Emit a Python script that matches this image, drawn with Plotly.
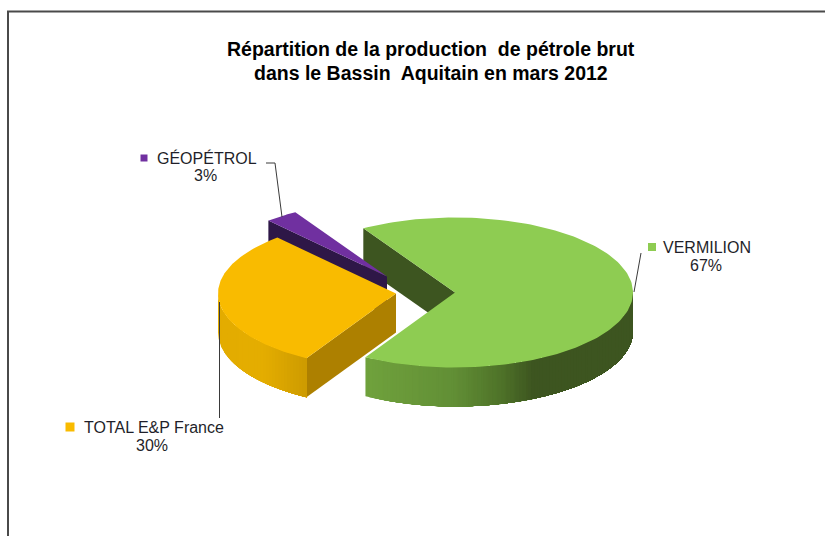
import numpy as np
import plotly.graph_objects as go

# ---- data ----
categories = ["VERMILION", "TOTAL E&P France", "GÉOPÉTROL"]
shares = [67, 30, 3]
title_lines = ["Répartition de la production  de pétrole brut",
               "dans le Bassin  Aquitain en mars 2012"]

# ---- style ----
top_colors = ["#8ECC52", "#F9BB00", "#7030A0"]
face_colors = ["#3D5520", "#AD8000", "#2E1747"]
wall_stops = [
    ([366, 453, 500, 533, 633], ["#70A23D", "#628F36", "#4F7329", "#3D5520", "#3D5520"]),
    ([218, 262, 307], ["#E3AC00", "#E5AE00", "#CD9B00"]),
    ([0, 825], ["#2E1747", "#2E1747"]),
]
explode = [(0, 0), (-59, 1), (-68, -16)]      # pixel offset of each slice
CX, CY, RX, RY, DEPTH = 455, 292.5, 178, 75, 39
START = -31


def rgb(h):
    return [int(h[i:i + 2], 16) for i in (1, 3, 5)]


def wall_color(idx, x):
    xs, cols = wall_stops[idx]
    c = np.array([rgb(k) for k in cols])
    return "rgb(%d,%d,%d)" % tuple(int(np.interp(x, xs, c[:, j])) for j in range(3))


def rim(idx, deg):
    t = np.radians(deg)
    ox, oy = explode[idx]
    return CX + ox + RX * np.sin(t), CY + oy - RY * np.cos(t)


def apex(idx):
    return CX + explode[idx][0], CY + explode[idx][1]


edges = START + np.concatenate([[0], np.cumsum(shares)]) * 3.6

fig = go.Figure()


def poly(xs, ys, color):
    fig.add_trace(go.Scatter(x=list(xs), y=list(ys), mode="lines", fill="toself",
                             fillcolor=color, line=dict(color=color, width=0),
                             hoverinfo="skip", showlegend=False))


def draw_faces(i):
    for a, vis in ((edges[i], np.sin(np.radians(edges[i])) < 0),
                   (edges[i + 1], np.sin(np.radians(edges[i + 1])) > 0)):
        if vis:
            ax, ay = apex(i)
            rx, ry = rim(i, a)
            poly([ax, rx, rx, ax, ax], [ay, ry, ry + DEPTH, ay + DEPTH, ay], face_colors[i])


def draw_outer(i):
    lo, hi = max(edges[i], 90), min(edges[i + 1], 270)
    if hi <= lo:
        return
    # Painter's approach: each band covers everything from its start to the arc's end,
    # so no anti-aliased seams appear between neighbouring bands.
    xl, xh = sorted((rim(i, lo)[0], rim(i, hi)[0]))
    for x0 in np.arange(xl, xh, 3.0):
        th = np.linspace(lo, hi, 200)
        pts = [rim(i, a) for a in th if rim(i, a)[0] >= x0]
        xs = [p[0] for p in pts]
        top = [p[1] for p in pts]
        poly(xs + xs[::-1] + xs[:1], top + [v + DEPTH for v in top[::-1]] + top[:1],
             wall_color(i, x0 + 1.5))


def draw_top(i):
    th = np.linspace(edges[i], edges[i + 1], 160)
    pts = [rim(i, a) for a in th]
    ax, ay = apex(i)
    poly([ax] + [p[0] for p in pts] + [ax], [ay] + [p[1] for p in pts] + [ay], top_colors[i])


draw_faces(0)
for i in (2, 1):
    draw_faces(i)
    draw_outer(i)
    draw_top(i)
draw_outer(0)
draw_top(0)

# ---- leader lines ----
leaders = [
    ([641, 634], [253, 292]),
    ([219.5, 219.5], [302, 418]),
    ([266, 275, 282], [163, 163, 217]),
]
for lx, ly in leaders:
    fig.add_trace(go.Scatter(x=lx, y=ly, mode="lines", line=dict(color="#3a3a3a", width=1),
                             hoverinfo="skip", showlegend=False))

# ---- data labels with colour keys ----
label_pos = [(706.5, 247, 706, 265), (153.5, 427, 152, 445), (207, 158, 205, 175)]
key_pos = [(652, 247, 8), (70, 427, 9), (144, 158, 7)]
for i, name in enumerate(categories):
    kx, ky, ks = key_pos[i]
    fig.add_trace(go.Scatter(x=[kx], y=[ky], mode="markers",
                             marker=dict(symbol="square", size=ks, color=top_colors[i]),
                             hoverinfo="skip", showlegend=False))
    x1, y1, x2, y2 = label_pos[i]
    for x, y, t in ((x1, y1, name), (x2, y2, f"{shares[i]}%")):
        fig.add_annotation(x=x, y=y, text=t, showarrow=False, xanchor="center", yanchor="middle",
                           font=dict(family="Liberation Sans", size=16, color="#1f1f2a"))

for y, t in zip((49, 73), title_lines):
    fig.add_annotation(x=430.5, y=y, text=f"<b>{t}</b>", showarrow=False, xanchor="center",
                       yanchor="middle", font=dict(family="Liberation Sans", size=19.5, color="#000000"))

fig.update_layout(
    width=825, height=536, margin=dict(l=0, r=0, t=0, b=0),
    paper_bgcolor="white", plot_bgcolor="white", showlegend=False,
    xaxis=dict(range=[0, 825], visible=False, fixedrange=True),
    yaxis=dict(range=[536, 0], visible=False, fixedrange=True),
    shapes=[dict(type="path", path="M 8 536 L 8 11.5 L 825 11.5", xref="x", yref="y",
                 line=dict(color="#4a4a4a", width=2))],
)
fig.write_html("out.html", config={"displayModeBar": False},
               post_script="document.body.style.margin='0';document.body.style.overflow='hidden';")
